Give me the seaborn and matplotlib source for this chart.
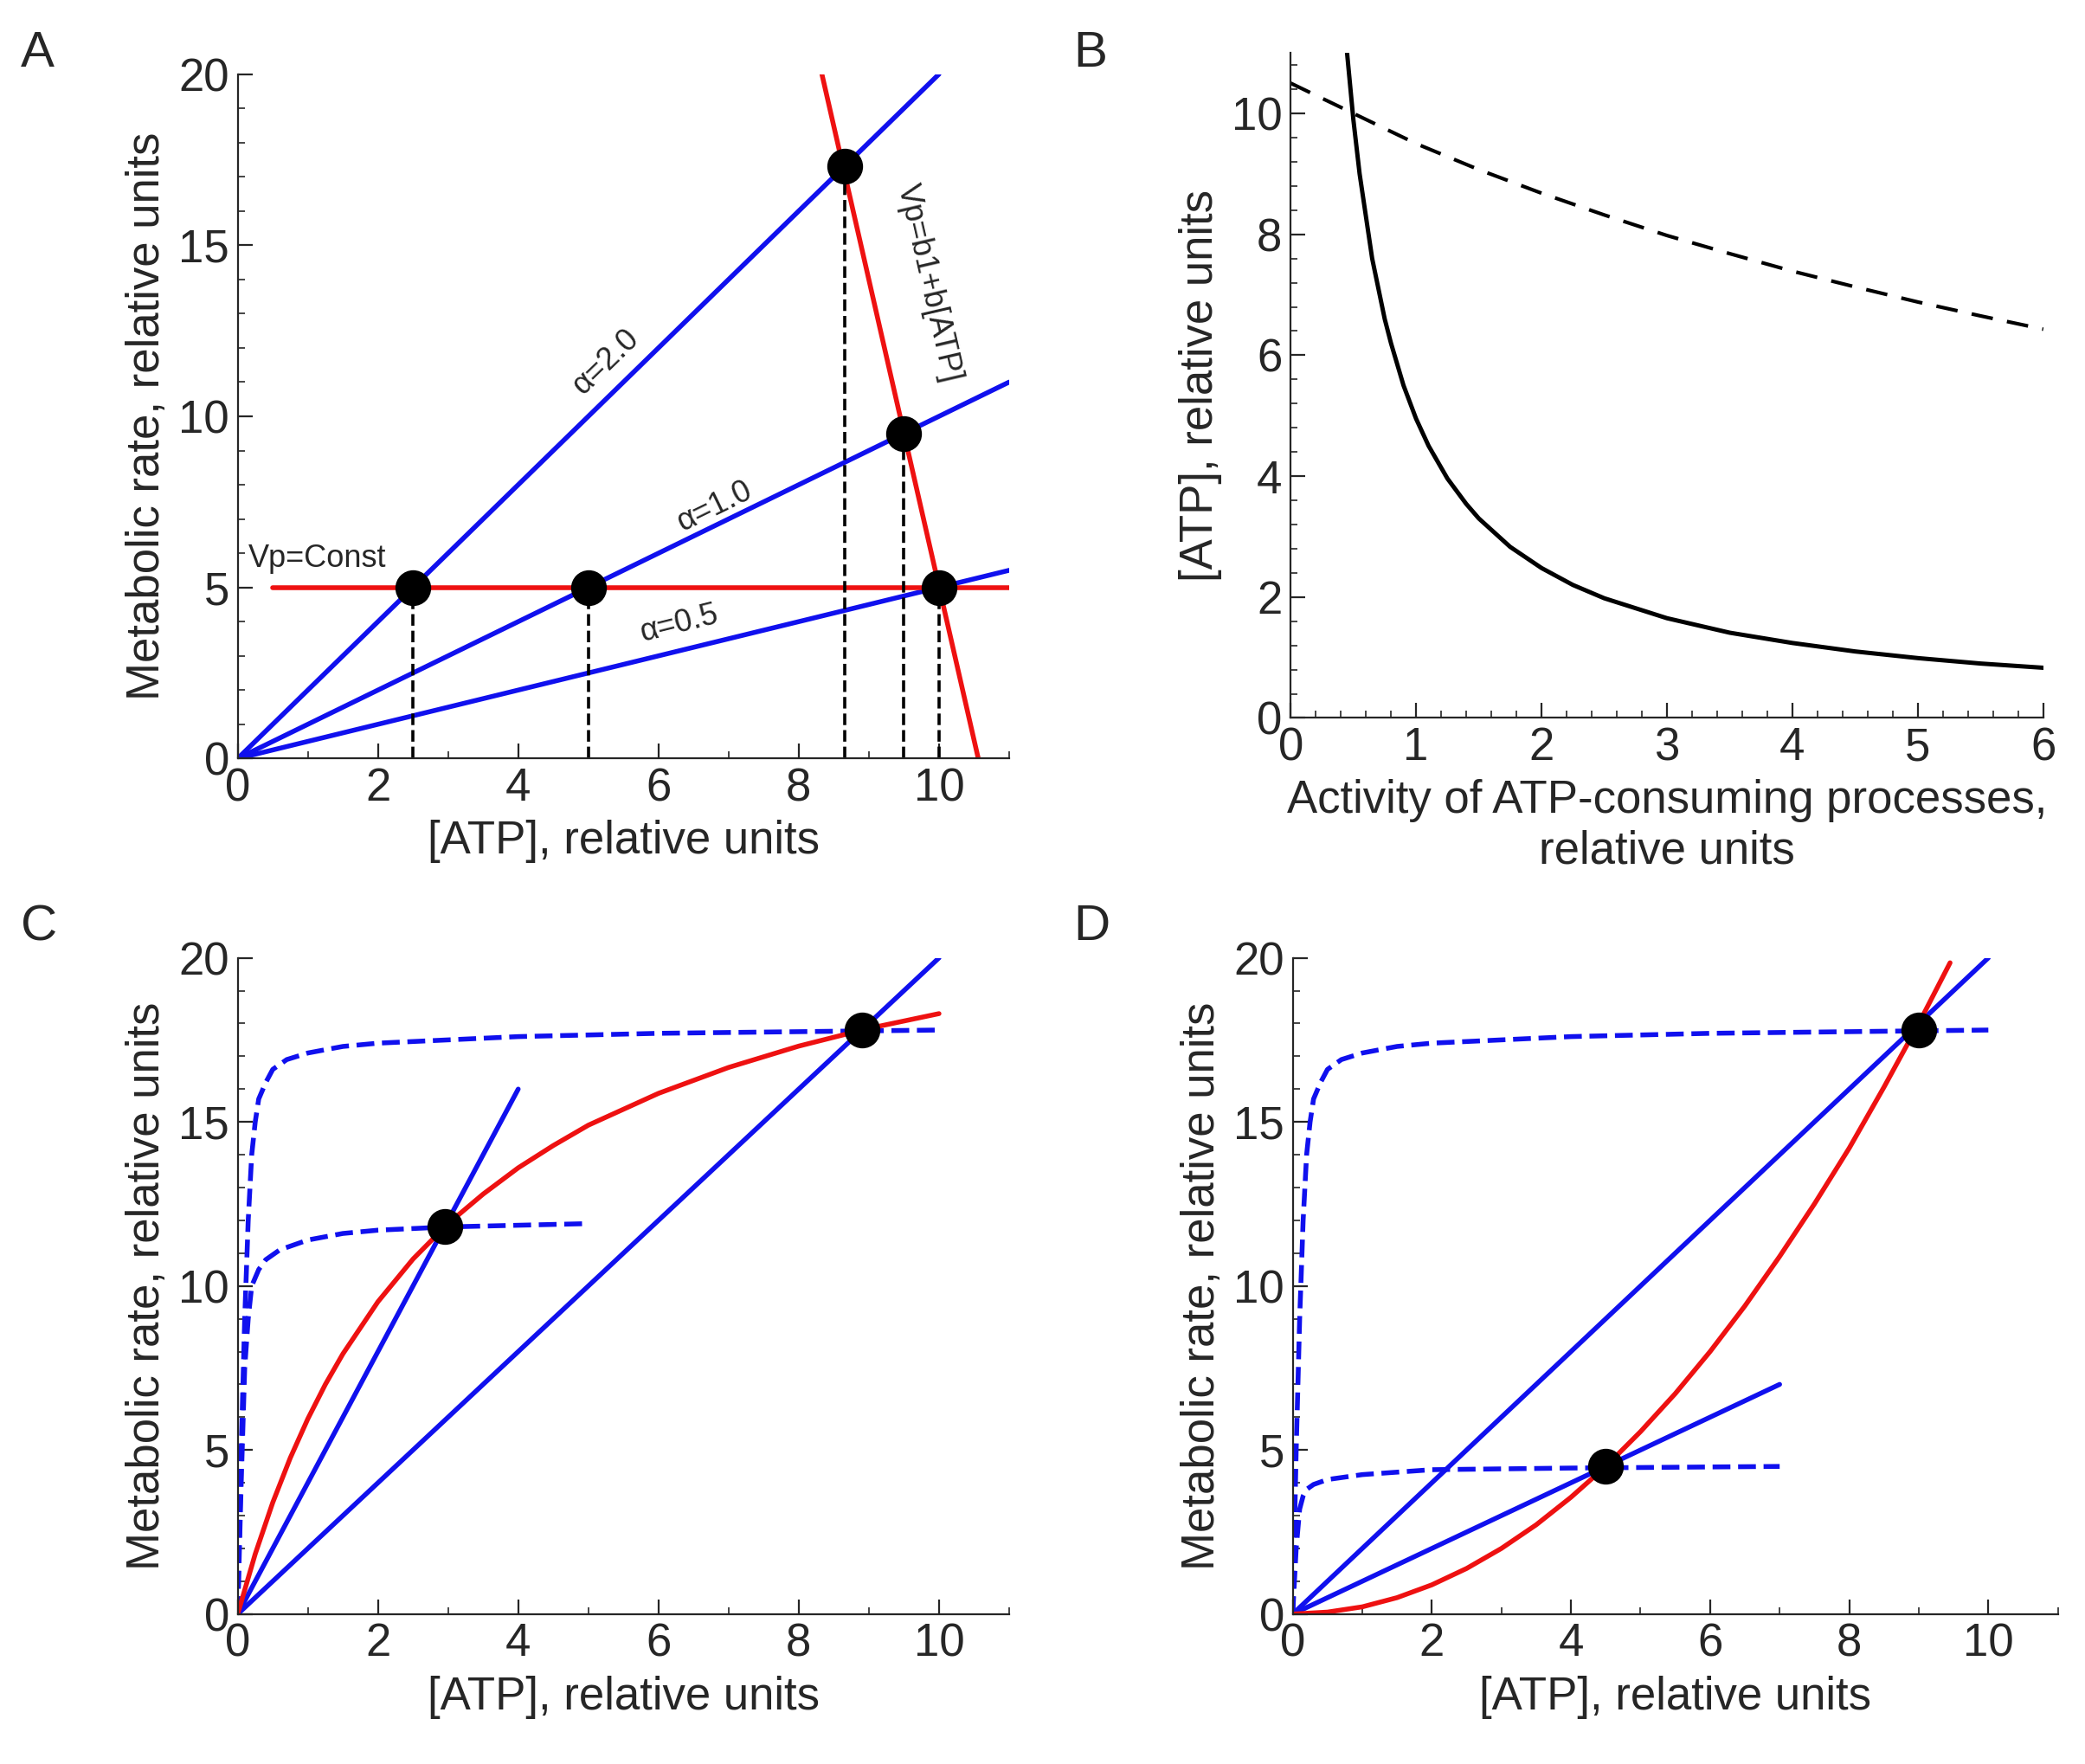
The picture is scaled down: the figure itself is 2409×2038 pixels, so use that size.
import matplotlib
matplotlib.use('Agg')
import matplotlib.pyplot as plt
import seaborn as sns
from matplotlib.ticker import MultipleLocator

sns.set_style('ticks')
plt.rcParams['font.family'] = ['Liberation Sans', 'DejaVu Sans']

# panel A
a_slopes = [2.0, 1.0, 0.5]
a_xend = [10, 11, 11]
vp_const_x = [0.5, 11]
vp_const_y = [5, 5]
vp_lin_x = [8.33, 10.56]
vp_lin_y = [20, 0]
a_pts_x = [2.5, 5.0, 10.0, 9.5, 8.65]
a_pts_y = [5.0, 5.0, 5.0, 9.5, 17.3]

# panel B
b_solid_x = [0.45, 0.5, 0.55, 0.6, 0.65, 0.7, 0.75, 0.8, 0.9, 1.0, 1.1, 1.25, 1.4, 1.5, 1.75, 2.0, 2.25, 2.5, 3.0, 3.5, 4.0, 4.5, 5.0, 5.5, 6.0]
b_solid_y = [11.0, 9.9, 9.0, 8.3, 7.6, 7.1, 6.6, 6.2, 5.5, 4.95, 4.5, 3.96, 3.54, 3.3, 2.83, 2.48, 2.2, 1.98, 1.65, 1.41, 1.24, 1.1, 0.99, 0.9, 0.83]
b_dash_x = [0, 0.5, 1, 1.5, 2, 2.5, 3, 3.5, 4, 4.5, 5, 5.5, 6]
b_dash_y = [10.5, 10.0, 9.5, 9.07, 8.68, 8.32, 7.98, 7.68, 7.39, 7.13, 6.88, 6.65, 6.43]

# panel C
c_top_x = [0, 0.05, 0.1, 0.15, 0.2, 0.25, 0.3, 0.4, 0.5, 0.7, 1, 1.5, 2, 3, 4, 6, 8, 10]
c_top_y = [0, 5, 9, 12, 14, 15.0, 15.7, 16.2, 16.6, 16.9, 17.1, 17.3, 17.4, 17.5, 17.6, 17.7, 17.75, 17.8]
c_low_x = [0, 0.05, 0.1, 0.15, 0.2, 0.3, 0.4, 0.6, 1, 1.5, 2, 3, 5]
c_low_y = [0, 4, 7.5, 9, 10, 10.5, 10.8, 11.1, 11.4, 11.6, 11.7, 11.8, 11.9]
c_red_x = [0, 0.25, 0.5, 0.75, 1, 1.25, 1.5, 2, 2.5, 3, 3.5, 4, 4.5, 5, 6, 7, 8, 9, 10]
c_red_y = [0, 1.83, 3.4, 4.76, 5.95, 7.0, 7.93, 9.52, 10.82, 11.9, 12.8, 13.6, 14.28, 14.9, 15.87, 16.66, 17.31, 17.85, 18.3]
c_lines = [(4, 16), (10, 20)]
c_pts_x = [2.95, 8.9]
c_pts_y = [11.8, 17.8]

# panel D
d_low_x = [0, 0.05, 0.1, 0.15, 0.2, 0.3, 0.5, 1, 2, 4, 7]
d_low_y = [0, 2, 3.2, 3.6, 3.8, 3.95, 4.1, 4.25, 4.4, 4.45, 4.5]
d_red_x = [0, 0.5, 1, 1.5, 2, 2.5, 3, 3.5, 4, 4.5, 5, 5.5, 6, 6.5, 7, 7.5, 8, 8.5, 9, 9.45]
d_red_y = [0, 0.06, 0.22, 0.5, 0.89, 1.39, 2, 2.72, 3.56, 4.5, 5.56, 6.72, 8, 9.39, 10.9, 12.5, 14.2, 16.06, 18, 19.85]
d_lines = [(10, 20), (7, 7)]
d_pts_x = [4.5, 9.0]
d_pts_y = [4.5, 17.8]

BLUE = '#1010ee'
RED = '#ee1111'
FS = 19

fig = plt.figure(figsize=(12.045, 10.19), dpi=200)
axA = fig.add_axes([0.114, 0.570, 0.370, 0.388])
axB = fig.add_axes([0.619, 0.593, 0.361, 0.377])
axC = fig.add_axes([0.114, 0.085, 0.370, 0.372])
axD = fig.add_axes([0.620, 0.085, 0.367, 0.372])


def style(ax, xlim, ylim, xmaj, ymaj, xmin, ymin):
    ax.set_xlim(*xlim)
    ax.set_ylim(*ylim)
    ax.xaxis.set_major_locator(MultipleLocator(xmaj))
    ax.yaxis.set_major_locator(MultipleLocator(ymaj))
    ax.xaxis.set_minor_locator(MultipleLocator(xmin))
    ax.yaxis.set_minor_locator(MultipleLocator(ymin))
    ax.tick_params(which='both', direction='in', labelsize=FS)
    ax.tick_params(which='major', length=6)
    ax.tick_params(which='minor', length=3)
    sns.despine(ax=ax)


def dots(ax, xs, ys):
    sns.scatterplot(x=xs, y=ys, ax=ax, s=190, color='black', zorder=5, edgecolor='black')


# A
for a, xe in zip(a_slopes, a_xend):
    sns.lineplot(x=[0, xe], y=[0, a * xe], ax=axA, color=BLUE, lw=2)
sns.lineplot(x=vp_const_x, y=vp_const_y, ax=axA, color=RED, lw=2)
sns.lineplot(x=vp_lin_x, y=vp_lin_y, ax=axA, color=RED, lw=2, sort=False)
for px, py in zip(a_pts_x, a_pts_y):
    axA.plot([px, px], [0, py], 'k--', lw=1.3)
dots(axA, a_pts_x, a_pts_y)
style(axA, (0, 11), (0, 20), 2, 5, 1, 1)
axA.text(5.25, 11.6, 'α=2.0', rotation=44, fontsize=13, ha='center', va='center')
axA.text(6.8, 7.35, 'α=1.0', rotation=26, fontsize=13, ha='center', va='center')
axA.text(6.3, 3.95, 'α=0.5', rotation=14, fontsize=13, ha='center', va='center')
axA.text(0.15, 5.4, 'Vp=Const', fontsize=13, ha='left', va='bottom')
axA.text(9.85, 13.9, 'Vp=b1+b[ATP]', rotation=-77, fontsize=13, ha='center', va='center')
axA.set_xlabel('[ATP], relative units', fontsize=FS)
axA.set_ylabel('Metabolic rate, relative units', fontsize=FS)

# B
sns.lineplot(x=b_solid_x, y=b_solid_y, ax=axB, color='black', lw=1.8)
sns.lineplot(x=b_dash_x, y=b_dash_y, ax=axB, color='black', lw=1.5, linestyle=(0, (6, 4)))
style(axB, (0, 6), (0, 11), 1, 2, 0.2, 0.4)
axB.set_xlabel('Activity of ATP-consuming processes,\nrelative units', fontsize=FS)
axB.set_ylabel('[ATP], relative units', fontsize=FS)

# C
sns.lineplot(x=c_top_x, y=c_top_y, ax=axC, color=BLUE, lw=2, linestyle='--')
sns.lineplot(x=c_low_x, y=c_low_y, ax=axC, color=BLUE, lw=2, linestyle='--')
for xe, ye in c_lines:
    sns.lineplot(x=[0, xe], y=[0, ye], ax=axC, color=BLUE, lw=2)
sns.lineplot(x=c_red_x, y=c_red_y, ax=axC, color=RED, lw=2)
dots(axC, c_pts_x, c_pts_y)
style(axC, (0, 11), (0, 20), 2, 5, 1, 1)
axC.set_xlabel('[ATP], relative units', fontsize=FS)
axC.set_ylabel('Metabolic rate, relative units', fontsize=FS)

# D
sns.lineplot(x=c_top_x, y=c_top_y, ax=axD, color=BLUE, lw=2, linestyle='--')
sns.lineplot(x=d_low_x, y=d_low_y, ax=axD, color=BLUE, lw=2, linestyle='--')
for xe, ye in d_lines:
    sns.lineplot(x=[0, xe], y=[0, ye], ax=axD, color=BLUE, lw=2)
sns.lineplot(x=d_red_x, y=d_red_y, ax=axD, color=RED, lw=2)
dots(axD, d_pts_x, d_pts_y)
style(axD, (0, 11), (0, 20), 2, 5, 1, 1)
axD.set_xlabel('[ATP], relative units', fontsize=FS)
axD.set_ylabel('Metabolic rate, relative units', fontsize=FS)

for lab, x, y in [('A', 0.01, 0.962), ('B', 0.515, 0.962), ('C', 0.01, 0.467), ('D', 0.515, 0.467)]:
    fig.text(x, y, lab, fontsize=21)

fig.savefig('out.png', dpi=200)
